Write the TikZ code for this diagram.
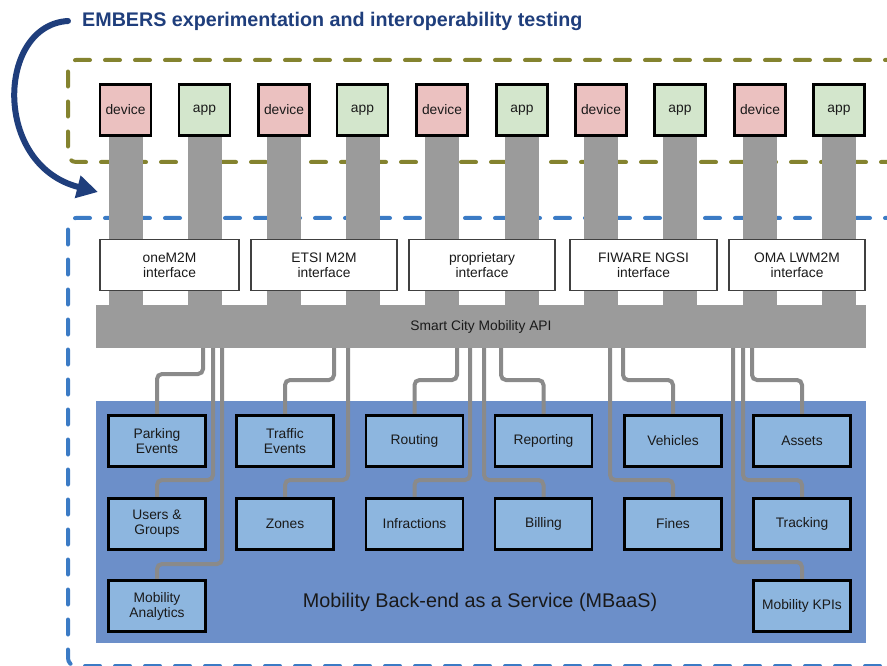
\documentclass[tikz,border=0pt]{standalone}
\usepackage{fontspec}
\setmainfont{Liberation Sans}
\usetikzlibrary{arrows.meta}
\definecolor{devfill}{HTML}{EBC1C0}
\definecolor{appfill}{HTML}{D3E6CC}
\definecolor{bargray}{HTML}{9B9B9B}
\definecolor{conngray}{HTML}{8A8A8A}
\definecolor{mbaasfill}{HTML}{6C8FC9}
\definecolor{innerfill}{HTML}{8DB6DF}
\definecolor{greendash}{HTML}{84832F}
\definecolor{bluedash}{HTML}{3B7BC5}
\definecolor{titleblue}{HTML}{1F3E7C}
\definecolor{txt}{HTML}{1A1A1A}
\pgfdeclarelayer{bg}
\pgfdeclarelayer{mid}
\pgfsetlayers{bg,mid,main}
\begin{document}
\begin{tikzpicture}[x=1pt,y=-1pt,
  boxfont/.style={font=\fontsize{13.8}{15}\selectfont, text=txt},
  devbox/.style={boxfont, draw=black, line width=2.6pt, fill=devfill, minimum width=51pt, minimum height=51pt, inner sep=0pt},
  appbox/.style={devbox, fill=appfill},
  ifbox/.style={boxfont, draw=black!75, line width=1.4pt, fill=white, minimum height=51pt, inner sep=0pt, align=center},
  apibar/.style={boxfont, fill=bargray, minimum width=770pt, minimum height=43pt, inner sep=0pt},
  mbaasbox/.style={fill=mbaasfill, minimum width=770pt, minimum height=242pt, inner sep=0pt},
  svcbox/.style={boxfont, draw=black, line width=2.6pt, fill=innerfill, minimum width=97pt, minimum height=51pt, inner sep=0pt, align=center},
  bar/.style={draw=bargray, line width=34pt},
  conn/.style={draw=conngray, line width=4pt, rounded corners=5pt},
  greenbox/.style={draw=greendash, line width=4pt, dash pattern=on 15pt off 15pt, line cap=round, rounded corners=8pt},
  bluebox/.style={draw=bluedash, line width=4pt, dash pattern=on 15pt off 15pt, line cap=round, rounded corners=8pt},
  titletext/.style={font=\fontsize{19.7}{22}\selectfont\bfseries, text=titleblue, inner sep=0pt},
  bigarrow/.style={draw=titleblue, line width=6pt, line cap=round, -{Triangle[length=21pt,width=22pt]}}
]
\useasboundingbox (0,0) rectangle (887,666);

% title and arrow
\node[titletext, anchor=base west] (title) at (82,27) {EMBERS experimentation and interoperability testing};
\coordinate (arrS) at (68,21);
\coordinate (arrE) at (98,192);
\draw[bigarrow] (arrS) .. controls (-3,25) and (-8,165) .. (arrE);

% devices and apps
\node[devbox] (d1) at (125.5,110) {device};
\node[appbox] (a1) at (204.5,110) {app};
\node[devbox] (d2) at (284,110) {device};
\node[appbox] (a2) at (362.5,110) {app};
\node[devbox] (d3) at (442,110) {device};
\node[appbox] (a3) at (522,110) {app};
\node[devbox] (d4) at (601,110) {device};
\node[appbox] (a4) at (680,110) {app};
\node[devbox] (d5) at (760,110) {device};
\node[appbox] (a5) at (839,110) {app};

% interfaces
\node[ifbox, minimum width=139pt] (i1) at (169.5,265) {oneM2M\\interface};
\node[ifbox, minimum width=146pt] (i2) at (324,265) {ETSI M2M\\interface};
\node[ifbox, minimum width=146pt] (i3) at (482,265) {proprietary\\interface};
\node[ifbox, minimum width=147pt] (i4) at (643.5,265) {FIWARE NGSI\\interface};
\node[ifbox, minimum width=136pt] (i5) at (797,265) {OMA LWM2M\\interface};

% API
\node[apibar] (api) at (481,326.5) {Smart City Mobility API};

% bars behind
\begin{pgfonlayer}{bg}
\fill[white] (0,0) rectangle (887,666);
\draw[greenbox] (900,60) -- (68,60) -- (68,162) -- (900,162);
\draw[bluebox] (900,218) -- (68,218) -- (68,666) -- (900,666);
\foreach \n in {d1,a1,d2,a2,d3,a3,d4,a4,d5,a5}{
  \draw[bar] (\n.south) -- (\n.south |- api.north);
}
\node[mbaasbox] (mbaas) at (481,522) {};
\end{pgfonlayer}

\node[font=\fontsize{19.8}{22}\selectfont, text=black!90, inner sep=0pt] (mtitle) at (480,602) {Mobility Back-end as a Service (MBaaS)};

% services
\node[svcbox] (pe) at (157,441) {Parking\\Events};
\node[svcbox] (te) at (285,441) {Traffic\\Events};
\node[svcbox] (ro) at (414.5,441) {Routing};
\node[svcbox] (re) at (543.5,441) {Reporting};
\node[svcbox] (ve) at (673,441) {Vehicles};
\node[svcbox] (as) at (802,441) {Assets};
\node[svcbox] (ug) at (157,524) {Users \&\\Groups};
\node[svcbox] (zo) at (285,524) {Zones};
\node[svcbox] (in) at (414.5,524) {Infractions};
\node[svcbox] (bi) at (543.5,524) {Billing};
\node[svcbox] (fi) at (673,524) {Fines};
\node[svcbox] (tr) at (802,524) {Tracking};
\node[svcbox] (ma) at (157,606) {Mobility\\Analytics};
\node[svcbox] (kp) at (802,606) {Mobility KPIs};

% connectors
\begin{pgfonlayer}{mid}
\foreach \x/\y/\t in {203/374/pe, 213/480/ug, 222/564/ma, 334/380/te, 348/480/zo,
  457/380/ro, 470/480/in, 484/480/bi, 501/380/re, 610/480/fi, 623/380/ve,
  733/562/kp, 743/480/tr, 752/380/as}{
  \coordinate (c\t) at (\x,348);
  \draw[conn] (c\t) -- (\x,\y) -| (\t.north);
}
\end{pgfonlayer}
\end{tikzpicture}
\end{document}
